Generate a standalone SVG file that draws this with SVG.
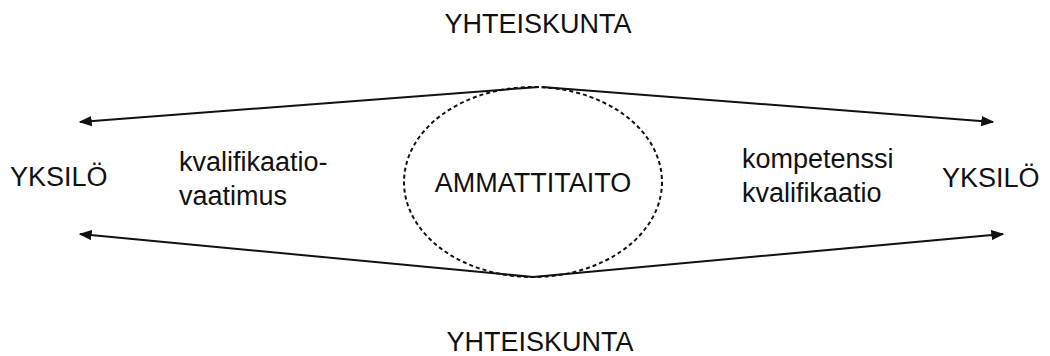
<svg xmlns="http://www.w3.org/2000/svg" width="1050" height="356" viewBox="0 0 1050 356">
  <style>
    text { font-family: "Liberation Sans", Arial, sans-serif; font-size: 27px; fill: #111; }
    .ln { stroke: #111; stroke-width: 2; fill: none; marker-end: url(#ah); }
  </style>
  <defs>
    <marker id="ah" viewBox="0 0 10 8" refX="9" refY="4" markerWidth="6.5" markerHeight="5.5" orient="auto" markerUnits="strokeWidth">
      <path d="M0,0 L10,4 L0,8 z" fill="#111"/>
    </marker>
  </defs>
  <rect width="1050" height="356" fill="#fff"/>
  <g id="connectors">
    <line class="ln" x1="539" y1="87" x2="80" y2="122"/>
    <line class="ln" x1="542" y1="87" x2="993" y2="122"/>
    <line class="ln" x1="533" y1="277" x2="80" y2="234"/>
    <line class="ln" x1="533" y1="277" x2="1003" y2="234"/>
  </g>
  <g id="ammattitaito">
    <ellipse cx="533" cy="182" rx="129" ry="95" fill="none" stroke="#111" stroke-width="2" stroke-dasharray="4 3"/>
    <text x="533" y="192" text-anchor="middle">AMMATTITAITO</text>
  </g>
  <g id="yhteiskunta-top">
    <text x="538" y="33" text-anchor="middle">YHTEISKUNTA</text>
  </g>
  <g id="yhteiskunta-bottom">
    <text x="540" y="351" text-anchor="middle">YHTEISKUNTA</text>
  </g>
  <g id="yksilo-left">
    <text x="10" y="186">YKSILÖ</text>
  </g>
  <g id="yksilo-right">
    <text x="942" y="187">YKSILÖ</text>
  </g>
  <g id="label-left">
    <text x="179" y="171">kvalifikaatio-</text>
    <text x="179" y="205">vaatimus</text>
  </g>
  <g id="label-right">
    <text x="742" y="168">kompetenssi</text>
    <text x="742" y="202">kvalifikaatio</text>
  </g>
</svg>
